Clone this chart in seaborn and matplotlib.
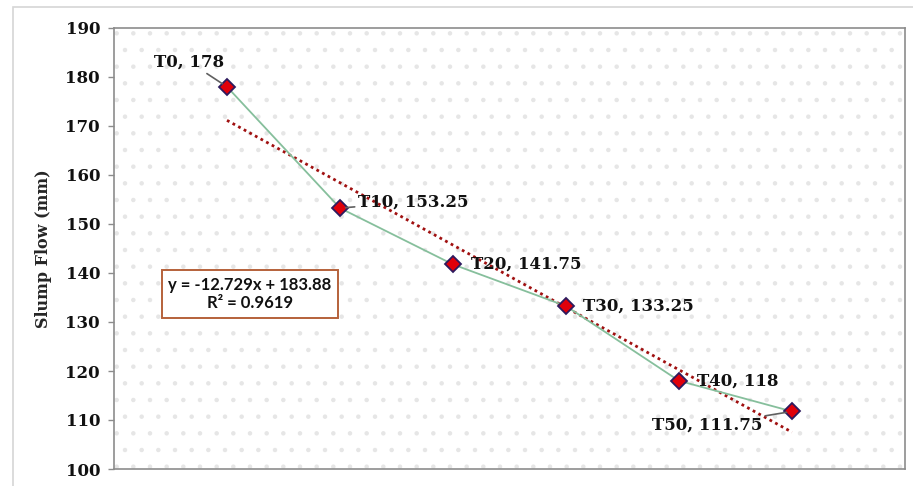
import numpy as np
import pandas as pd
import matplotlib
matplotlib.use("Agg")
import matplotlib.pyplot as plt
from matplotlib.patches import Rectangle
import seaborn as sns

# Slump flow readings over time
labels = ["T0", "T10", "T20", "T30", "T40", "T50"]
positions = [1, 2, 3, 4, 5, 6]
slump_flow = [178, 153.25, 141.75, 133.25, 118, 111.75]
y_ticks = [100, 110, 120, 130, 140, 150, 160, 170, 180, 190]

df = pd.DataFrame({"pos": positions, "flow": slump_flow, "label": labels})

sns.set_theme(style="white")
plt.rcParams["font.family"] = ["DejaVu Serif"]
plt.rcParams["hatch.linewidth"] = 0.8

fig = plt.figure(figsize=(9.13, 4.86), dpi=100)
fig.patch.set_facecolor("white")
ax = fig.add_axes([114 / 913, 17 / 486, 791 / 913, 441 / 486])

# outer chart frame
fig.add_artist(Rectangle((13 / 913, -0.1), 1.2, 1.1 - 7 / 486,
                         transform=fig.transFigure, fill=False,
                         edgecolor="#d6d6d6", lw=1.2))

# dotted plot-area texture
ax.add_patch(Rectangle((0, 0), 1, 1, transform=ax.transAxes, facecolor="white",
                       edgecolor="#e6e6e6", lw=0, hatch=".", zorder=0))

# linear trendline
slope, intercept = np.polyfit(positions, slump_flow, 1)
pred = np.polyval([slope, intercept], positions)
r2 = 1 - np.sum((np.array(slump_flow) - pred) ** 2) / np.sum(
    (np.array(slump_flow) - np.mean(slump_flow)) ** 2)
sns.regplot(data=df, x="pos", y="flow", ax=ax, scatter=False, ci=None,
            truncate=True,
            line_kws=dict(color="#a01010", lw=2.0, linestyle=(0, (1, 1.3)),
                          zorder=2))

sns.lineplot(data=df, x="pos", y="flow", ax=ax, color="#86bf9c", lw=1.3,
             marker="D", markersize=8.5, markerfacecolor="#e0000a",
             markeredgecolor="#2e1a5e", markeredgewidth=1.3, zorder=3)

# data labels: (dx, dy) in pixels, horizontal alignment, leader line
label_layout = [(-38, 25, "center", True), (18, 6, "left", True),
                (18, 0, "left", False), (17, 0, "left", False),
                (18, 0, "left", False), (-30, -14, "right", True)]
for (lab, x, v), (dx, dy, ha, lead) in zip(zip(labels, positions, slump_flow), label_layout):
    txt = f"{lab}, {v:g}"
    arrow = dict(arrowstyle="-", color="#606060", lw=1.2, shrinkA=0, shrinkB=4) if lead else None
    ax.annotate(txt, xy=(x, v), xytext=(dx, dy), textcoords="offset pixels",
                ha=ha, va="center", fontsize=12, fontweight="bold",
                color="#111111", arrowprops=arrow, zorder=5)

# regression equation box
ax.text(0.172, 0.397, f"y = {slope:.3f}x + {intercept:.2f}\nR² = {r2:.4f}",
        transform=ax.transAxes, ha="center", va="center", fontsize=12,
        fontweight="bold", family=["Lato", "DejaVu Sans"], color="#111111",
        linespacing=1.2, zorder=6,
        bbox=dict(boxstyle="square,pad=0.4", facecolor="white",
                  edgecolor="#b5613a", lw=1.4))

ax.set_xlim(0, 7)
ax.set_ylim(100, 190)
ax.set_yticks(y_ticks)
ax.set_xticks([])
ax.set_xlabel("")
ax.set_ylabel("Slump Flow (mm)", fontsize=11.5, fontweight="bold", labelpad=10)
for lbl in ax.get_yticklabels():
    lbl.set_fontweight("bold")
ax.tick_params(axis="y", left=True, length=4, width=1, color="#8c8c8c",
               labelsize=12, labelcolor="#111111", pad=6)
for side in ["left", "bottom", "right", "top"]:
    ax.spines[side].set_color("#8c8c8c")
    ax.spines[side].set_linewidth(1.2)

fig.savefig("out.png", dpi=100)
